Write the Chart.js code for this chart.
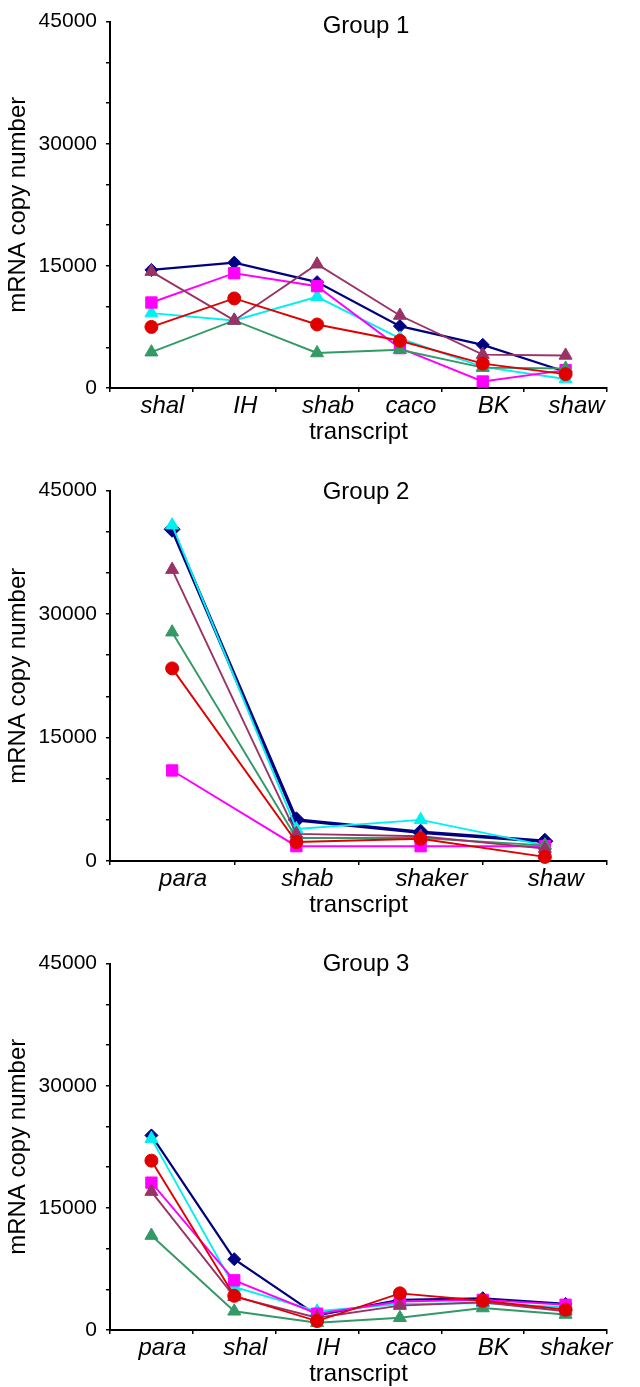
<!DOCTYPE html>
<html>
<head>
<meta charset="utf-8">
<script src="https://cdn.jsdelivr.net/npm/chart.js@4.4.1/dist/chart.umd.min.js"></script>
<style>
html,body{margin:0;padding:0;background:#fff;overflow:hidden}
body{width:640px;height:1387px;position:relative}
.box{position:absolute;left:0;width:640px}
</style>
</head>
<body>
<div class="box" style="top:0;height:447px"><canvas id="g1"></canvas></div>
<div class="box" style="top:469px;height:451px"><canvas id="g2"></canvas></div>
<div class="box" style="top:942px;height:447px"><canvas id="g3"></canvas></div>
<script>
// ── DATA ─────────────────────────────────────────────────────────────────────
const yTicks = [0, 15000, 30000, 45000];

const g1Cats    = ['shal','IH','shab','caco','BK','shaw'];
const g1Navy    = [14500, 15400, 13000, 7600, 5300, 2000];
const g1Cyan    = [9200, 8300, 11200, 6100, 2600, 1100];
const g1Magenta = [10500, 14100, 12500, 4900, 800, 2200];
const g1Green   = [4400, 8300, 4300, 4700, 2500, 2400];
const g1Maroon  = [14300, 8300, 15200, 8900, 4100, 4000];
const g1Red     = [7500, 11000, 7800, 5800, 3000, 1700];

const g2Cats    = ['para','shab','shaker','shaw'];
const g2Navy    = [40300, 5000, 3500, 2400];
const g2Cyan    = [40800, 3900, 5000, 1900];
const g2Magenta = [11000, 1800, 1800, 1800];
const g2Green   = [27800, 2800, 2800, 1900];
const g2Maroon  = [35400, 3300, 3000, 1500];
const g2Red     = [23400, 2300, 2700, 500];

const g3Cats    = ['para','shal','IH','caco','BK','shaker'];
const g3Navy    = [23900, 8700, 1800, 3700, 3900, 3200];
const g3Cyan    = [23500, 5300, 2300, 3200, 3300, 2800];
const g3Magenta = [18100, 6100, 2000, 3500, 3700, 3100];
const g3Green   = [11600, 2300, 900, 1500, 2700, 1900];
const g3Maroon  = [17000, 4100, 1500, 3000, 3400, 2300];
const g3Red     = [20800, 4200, 1100, 4500, 3600, 2500];

// ── STYLE ────────────────────────────────────────────────────────────────────
const FF = '"Liberation Sans", Arial, sans-serif';
const SER = {
  navy:   {c:'#000080', p:'rectRot',  r:6.5},
  cyan:   {c:'#00f0f0', p:'triangle', r:7.5},
  magenta:{c:'#ff00ff', p:'rect',     r:8},
  green:  {c:'#339966', p:'triangle', r:7.5},
  maroon: {c:'#993366', p:'triangle', r:7.5},
  red:    {c:'#e00000', p:'circle',   r:6.5}
};

const groupTitle = {
  id:'groupTitle',
  afterDraw(chart, args, o){
    const {ctx, chartArea} = chart;
    ctx.save();
    ctx.font = `24px ${FF}`;
    ctx.fillStyle = '#000';
    ctx.textAlign = 'center';
    ctx.textBaseline = 'alphabetic';
    ctx.fillText(o.text, 366, chartArea.top + o.dy);
    ctx.restore();
  }
};

function ds(key, data, lw, rad){
  const s = SER[key];
  return {label:key, data, borderColor:s.c, backgroundColor:s.c,
    pointStyle:s.p, pointRadius:rad||s.r, pointBorderWidth:1, borderWidth:lw||1.9,
    tension:0, clip:false};
}

function mkGroup(id, title, dy, cats, sets){
  return new Chart(document.getElementById(id), {
    type:'line',
    data:{labels:cats, datasets:sets},
    plugins:[groupTitle],
    options:{
      responsive:true, maintainAspectRatio:false, animation:false,
      layout:{padding:{top:21, right:33, left:0, bottom:0}},
      plugins:{legend:{display:false}, tooltip:{enabled:false}, groupTitle:{text:title, dy}},
      scales:{
        x:{
          offset:true,
          grid:{offset:true, drawOnChartArea:false, color:'#000', lineWidth:1.5, tickLength:4},
          border:{color:'#000', width:2},
          ticks:{color:'#000', font:{family:FF, size:24, style:'italic'}, padding:0, labelOffset:11, maxRotation:0},
          title:{display:true, text:'transcript', color:'#000', font:{family:FF, size:24}, padding:0},
          afterFit(s){ s.height = 59; }
        },
        y:{
          min:0, max:45000,
          grid:{drawOnChartArea:false, color:'#000', lineWidth:1.5, tickLength:4},
          border:{color:'#000', width:2},
          ticks:{stepSize:5000, color:'#000', padding:9, font:{family:FF, size:21},
            callback:v => yTicks.includes(v) ? String(v) : ''},
          title:{display:true, text:'mRNA copy number', color:'#000', font:{family:FF, size:24}, padding:{top:4}},
          afterFit(s){ s.width = 110; }
        }
      }
    }
  });
}

mkGroup('g1', 'Group 1', 11, g1Cats, [
  ds('red', g1Red), ds('maroon', g1Maroon), ds('green', g1Green),
  ds('magenta', g1Magenta), ds('cyan', g1Cyan), ds('navy', g1Navy, 2.2)
]);
mkGroup('g2', 'Group 2', 8, g2Cats, [
  ds('red', g2Red), ds('maroon', g2Maroon), ds('green', g2Green),
  ds('magenta', g2Magenta), ds('cyan', g2Cyan), ds('navy', g2Navy, 3.4, 8)
]);
mkGroup('g3', 'Group 3', 7, g3Cats, [
  ds('red', g3Red), ds('maroon', g3Maroon), ds('green', g3Green),
  ds('magenta', g3Magenta), ds('cyan', g3Cyan), ds('navy', g3Navy, 2.2)
]);
</script>
</body>
</html>
